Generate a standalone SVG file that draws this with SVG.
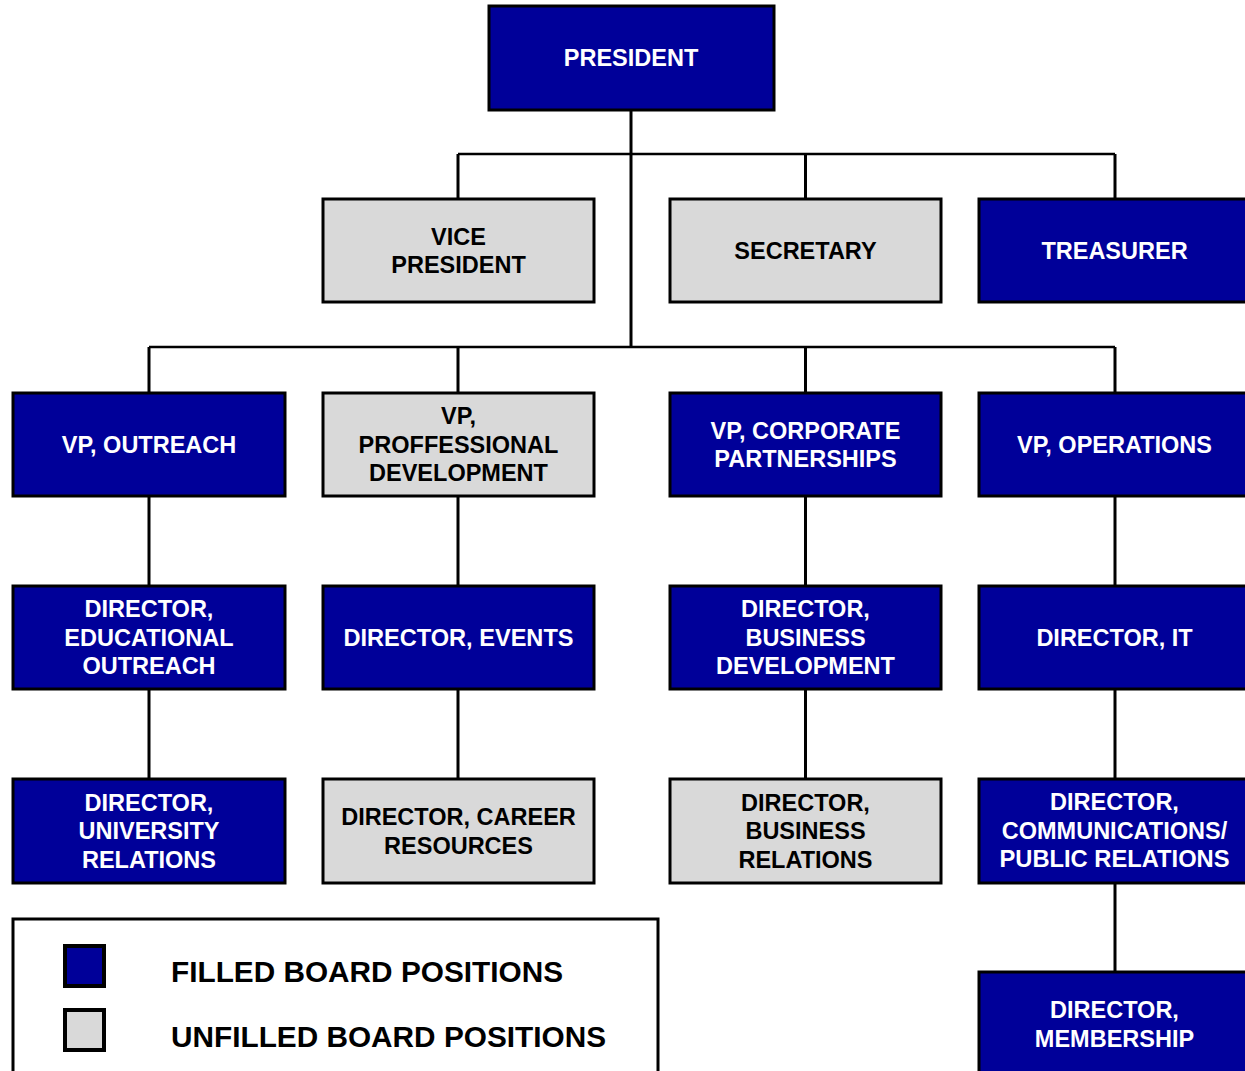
<svg xmlns="http://www.w3.org/2000/svg" width="1245" height="1071" viewBox="0 0 1245 1071">
<style>
.filled{fill:#000099;stroke:#000;stroke-width:3}
.unfilled{fill:#d9d9d9;stroke:#000;stroke-width:3}
.lt{font-family:"Liberation Sans",Arial,sans-serif;font-weight:bold;font-size:23.5px;text-anchor:middle;fill:#fff}
.dt{font-family:"Liberation Sans",Arial,sans-serif;font-weight:bold;font-size:23.5px;text-anchor:middle;fill:#000}
.conn{stroke:#000;stroke-width:3;fill:none}
.hconn{stroke:#000;stroke-width:2.5;fill:none}
.leg{font-family:"Liberation Sans",Arial,sans-serif;font-weight:bold;font-size:29px;fill:#000}
</style>
<rect width="1245" height="1071" fill="#fff"/>
<g id="connectors">
<path class="conn" d="M631 110V347"/>
<path class="hconn" d="M458 154H1115"/>
<path class="conn" d="M458 154V199M805.5 154V199M1115 154V199"/>
<path class="hconn" d="M149 347H1115"/>
<path class="conn" d="M149 347V393M458 347V393M805.5 347V393M1115 347V393"/>
<path class="conn" d="M149 496V586M149 689V779"/>
<path class="conn" d="M458 496V586M458 689V779"/>
<path class="conn" d="M805.5 496V586M805.5 689V779"/>
<path class="conn" d="M1115 496V586M1115 689V779M1115 883V972"/>
</g>
<g id="president"><rect class="filled" x="489" y="6" width="285" height="104"/><text class="lt" x="631" y="66">PRESIDENT</text></g>
<g id="vice-president"><rect class="unfilled" x="323" y="199" width="271" height="103"/><text class="dt" x="458.5" y="244.5">VICE</text><text class="dt" x="458.5" y="273">PRESIDENT</text></g>
<g id="secretary"><rect class="unfilled" x="670" y="199" width="271" height="103"/><text class="dt" x="805.5" y="258.5">SECRETARY</text></g>
<g id="treasurer"><rect class="filled" x="979" y="199" width="272" height="103"/><text class="lt" x="1114.5" y="258.5">TREASURER</text></g>
<g id="vp-outreach"><rect class="filled" x="13" y="393" width="272" height="103"/><text class="lt" x="149" y="452.5">VP, OUTREACH</text></g>
<g id="vp-professional-development"><rect class="unfilled" x="323" y="393" width="271" height="103"/><text class="dt" x="458.5" y="424">VP,</text><text class="dt" x="458.5" y="452.5">PROFFESSIONAL</text><text class="dt" x="458.5" y="481">DEVELOPMENT</text></g>
<g id="vp-corporate-partnerships"><rect class="filled" x="670" y="393" width="271" height="103"/><text class="lt" x="805.5" y="438.5">VP, CORPORATE</text><text class="lt" x="805.5" y="467">PARTNERSHIPS</text></g>
<g id="vp-operations"><rect class="filled" x="979" y="393" width="272" height="103"/><text class="lt" x="1114.5" y="452.5">VP, OPERATIONS</text></g>
<g id="director-educational-outreach"><rect class="filled" x="13" y="586" width="272" height="103"/><text class="lt" x="149" y="617">DIRECTOR,</text><text class="lt" x="149" y="645.5">EDUCATIONAL</text><text class="lt" x="149" y="674">OUTREACH</text></g>
<g id="director-events"><rect class="filled" x="323" y="586" width="271" height="103"/><text class="lt" x="458.5" y="645.5" textLength="230" lengthAdjust="spacingAndGlyphs">DIRECTOR, EVENTS</text></g>
<g id="director-business-development"><rect class="filled" x="670" y="586" width="271" height="103"/><text class="lt" x="805.5" y="617">DIRECTOR,</text><text class="lt" x="805.5" y="645.5">BUSINESS</text><text class="lt" x="805.5" y="674">DEVELOPMENT</text></g>
<g id="director-it"><rect class="filled" x="979" y="586" width="272" height="103"/><text class="lt" x="1114.5" y="645.5">DIRECTOR, IT</text></g>
<g id="director-university-relations"><rect class="filled" x="13" y="779" width="272" height="104"/><text class="lt" x="149" y="810.5">DIRECTOR,</text><text class="lt" x="149" y="839">UNIVERSITY</text><text class="lt" x="149" y="867.5">RELATIONS</text></g>
<g id="director-career-resources"><rect class="unfilled" x="323" y="779" width="271" height="104"/><text class="dt" x="458.5" y="825">DIRECTOR, CAREER</text><text class="dt" x="458.5" y="853.5">RESOURCES</text></g>
<g id="director-business-relations"><rect class="unfilled" x="670" y="779" width="271" height="104"/><text class="dt" x="805.5" y="810.5">DIRECTOR,</text><text class="dt" x="805.5" y="839">BUSINESS</text><text class="dt" x="805.5" y="867.5">RELATIONS</text></g>
<g id="director-communications"><rect class="filled" x="979" y="779" width="272" height="104"/><text class="lt" x="1114.5" y="810">DIRECTOR,</text><text class="lt" x="1114.5" y="838.5">COMMUNICATIONS/</text><text class="lt" x="1114.5" y="867" textLength="230" lengthAdjust="spacingAndGlyphs">PUBLIC RELATIONS</text></g>
<g id="director-membership"><rect class="filled" x="979" y="972" width="272" height="110"/><text class="lt" x="1114.5" y="1018">DIRECTOR,</text><text class="lt" x="1114.5" y="1046.5">MEMBERSHIP</text></g>
<g id="legend">
<rect x="13" y="919" width="645" height="170" fill="#fff" stroke="#000" stroke-width="3"/>
<rect x="65" y="946" width="39" height="40" fill="#000099" stroke="#000" stroke-width="4"/>
<rect x="65" y="1010" width="39" height="40" fill="#d9d9d9" stroke="#000" stroke-width="4"/>
<text class="leg" x="171" y="982" textLength="392" lengthAdjust="spacingAndGlyphs">FILLED BOARD POSITIONS</text>
<text class="leg" x="171" y="1047" textLength="435" lengthAdjust="spacingAndGlyphs">UNFILLED BOARD POSITIONS</text>
</g>
</svg>
